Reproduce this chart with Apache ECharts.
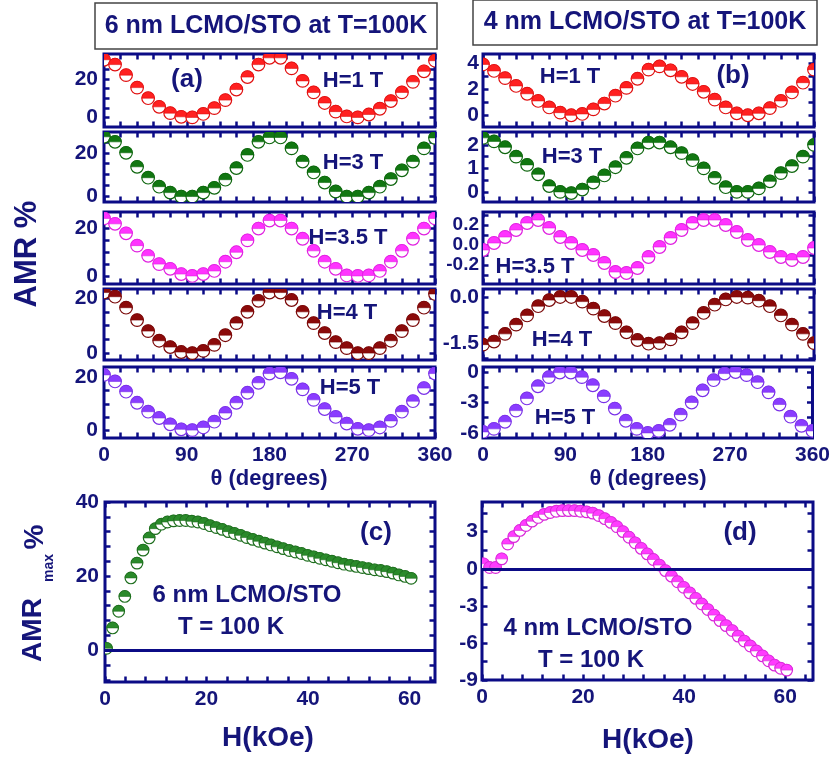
<!DOCTYPE html>
<html><head><meta charset="utf-8">
<script src="https://cdn.jsdelivr.net/npm/echarts@6/dist/echarts.min.js"></script>
<style>html,body{margin:0;padding:0;background:#fff}#c{width:833px;height:763px}</style>
</head><body><div id="c"></div><script>
// ---------- DATA ----------
const theta = [0,12,24,36,48,60,72,84,96,108,120,132,144,156,168,180,192,204,216,228,240,252,264,276,288,300,312,324,336,348,360];
const thetaTicks = [0,18,36,54,72,90,108,126,144,162,180,198,216,234,252,270,288,306,324,342,360];
const thetaLabels = [0,90,180,270,360];

// 6 nm film (left column), AMR %
const amr6_1T   = [30,27.5,22,15.5,10, 5.5,2.2,0.3,0,1.8, 4.8,9,14.5,21,27.5, 31,31,25.5,19,13, 7.5,3,0.5,0,1.5, 4.5,8.5,13,18.5,24, 29.5];
const amr6_3T   = [27.3,25,20,13.6,8.6, 4.5,1.8,0,0,1.8, 4,7.7,13,19,25, 27,27,22,16,11, 6.4,2.3,0,0,1.8, 4.5,8,12,16,22, 26.8];
const amr6_35T  = [24.3,22,18,12.8,8.5, 5,3,0.8,0,0.8, 2.1,6,10,15,20, 23.4,23.4,20,15.7,10.6, 6,3,0.2,0,0.2, 2.1,6,10.6,15.7,20, 24.3];
const amr6_4T   = [22,20.5,16.5,12,8, 4.5,2.2,0.4,0,0.8, 3,6.5,10.9,15,19, 22,22,19.3,15,10.9, 7.3,4,1.8,0,0, 1.8,4.5,8,12,16.5, 21.5];
const amr6_5T   = [21,18.5,14.6,10.4,7, 4.6,2.2,0.3,0,1, 3.2,6.5,10.4,14.2,18, 21.5,22,19.5,15.5,11.5, 8,5,2.5,0.5,0, 1,3.5,7,11,16, 21.5];
// 4 nm film (right column), AMR %
const amr4_1T   = [3.9,3.4,2.85,2.25,1.65, 1.1,0.6,0.2,0,0.1, 0.45,0.9,1.5,2.1,2.8, 3.5,3.75,3.45,2.95,2.4, 1.8,1.2,0.6,0.15,0, 0.15,0.55,1.1,1.75,2.5, 3.5];
const amr4_3T   = [2.3,2.15,1.9,1.5,1.15, 0.75,0.25,0,-0.05,0.1, 0.4,0.7,1.05,1.45,1.85, 2.1,2.1,1.9,1.65,1.35, 1.0,0.6,0.2,0,0, 0.15,0.45,0.8,1.1,1.5, 2.0];
const amr4_35T  = [-0.05,0.02,0.08,0.15,0.22, 0.25,0.17,0.08,0.02,-0.05, -0.1,-0.18,-0.27,-0.28,-0.23, -0.12,-0.02,0.07,0.15,0.22, 0.25,0.25,0.2,0.13,0.05, 0,-0.07,-0.12,-0.15,-0.12, -0.03];
const amr4_4T   = [-1.55,-1.45,-1.2,-0.9,-0.6, -0.3,-0.1,0,0,-0.15, -0.38,-0.62,-0.85,-1.15,-1.4, -1.52,-1.5,-1.38,-1.15,-0.85, -0.52,-0.25,-0.08,0,-0.02, -0.12,-0.3,-0.6,-0.9,-1.2, -1.5];
const amr4_5T   = [-5.9,-5.6,-4.9,-3.8,-2.6, -1.4,-0.5,-0.05,-0.05,-0.5, -1.3,-2.4,-3.6,-4.8,-5.6, -6.0,-5.8,-5.2,-4.2,-3.0, -1.8,-0.8,-0.15,0,-0.3, -1.0,-2.0,-3.2,-4.4,-5.3, -5.8];

// AMR_max vs field
const fieldH = [0.3,1.5,2.7,3.9,5.1,6.3,7.5,8.7,9.9,11.1,12.3,13.5,14.7,15.9,17.1,18.3,19.5,20.7,21.9,23.1,24.3,25.5,26.7,27.9,29.1,30.3,31.5,32.7,33.9,35.1,36.3,37.5,38.7,39.9,41.1,42.3,43.5,44.7,45.9,47.1,48.3,49.5,50.7,51.9,53.1,54.3,55.5,56.7,57.9,59.1,60.3];
const amrMax6 = [0.5,6,10.5,14.5,19.5,23.5,27,30.3,32.8,34,34.6,34.9,35,35,34.8,34.6,34.2,33.6,33.1,32.6,32,31.5,31,30.4,29.9,29.4,28.9,28.4,27.9,27.4,26.9,26.5,26.1,25.6,25.2,24.8,24.4,24,23.6,23.2,22.9,22.6,22.3,22,21.7,21.5,21.2,20.8,20.3,19.9,19.4];
const amrMax4 = [0.4,0.1,0.1,0.8,2.0,2.6,3.1,3.5,3.85,4.15,4.4,4.55,4.65,4.7,4.7,4.7,4.65,4.6,4.5,4.3,4.05,3.75,3.4,3.0,2.55,2.1,1.65,1.2,0.75,0.3,-0.15,-0.6,-1.05,-1.5,-1.95,-2.4,-2.85,-3.3,-3.75,-4.2,-4.6,-5.0,-5.45,-5.85,-6.25,-6.65,-7.05,-7.45,-7.8,-8.05,-8.2];
const fieldTicks = [0,4,8,12,16,20,24,28,32,36,40,44,48,52,56,60,64];
const fieldLabels = [0,20,40,60];

// tick labels per panel
const yLab6 = [0,20];
const yTick6 = [0,5,10,15,20,25,30];
const yLab4 = [[0,2,4],[0,1,2],[-0.2,0,0.2],[-1.5,0],[-6,-3,0]];
const yTick4 = [[0,1,2,3,4],[0,0.5,1,1.5,2],[-0.3,-0.2,-0.1,0,0.1,0.2,0.3],[-2,-1.5,-1,-0.5,0],[-6,-4.5,-3,-1.5,0]];
const yLabC = [0,20,40], yTickC = [-8,-4,0,4,8,12,16,20,24,28,32,36,40];
const yLabD = [-9,-6,-3,0,3], yTickD = [-9,-7.5,-6,-4.5,-3,-1.5,0,1.5,3,4.5];
const yRange6 = [[-5,33],[-2.5,29.5],[-3.4,27],[-2.5,23.3],[-3,24]];
const yRange4 = [[-0.9,4.7],[-0.43,2.55],[-0.39,0.33],[-2.05,0.26],[-6.5,0.5]];

// ---------- STYLE / LAYOUT ----------
const NAVY = '#0b0b86';
const TXT = '#15157a';
const FONT = '"Liberation Sans", Arial, sans-serif';
const colors = ['#ff2020','#117711','#ff33ff','#8b0a0a','#8a3cff'];
const rowTops = [54,132,212,289,367];
const rowH = [73,70,72,71,71];

const grids=[], xAxes=[], yAxes=[], series=[];
function tick(vals){return {show:true, inside:true, length:5.5, lineStyle:{color:NAVY, width:2.5}, customValues:vals};}
function lab(show, vals, fmt, margin, size){
  const o = {show:show, customValues:vals, color:TXT, fontSize:size||21, fontWeight:'bold', fontFamily:FONT, margin:margin, hideOverlap:false};
  if (fmt) o.formatter = fmt;
  return o;
}
function addPanel(p){
  const gi = grids.length;
  grids.push({left:p.left, top:p.top, width:p.width, height:p.height, show:true, borderColor:NAVY, borderWidth:3, backgroundColor:'rgba(0,0,0,0)'});
  const base = {type:'value', gridIndex:gi, axisLine:{show:false, onZero:false}, splitLine:{show:false}};
  xAxes.push(Object.assign({}, base, {position:'bottom', min:p.xMin, max:p.xMax, axisTick:tick(p.xTicks), axisLabel:lab(p.showX, p.xLabels, null, 7)}));
  xAxes.push(Object.assign({}, base, {position:'top', min:p.xMin, max:p.xMax, axisTick:tick(p.xTicks), axisLabel:{show:false}}));
  yAxes.push(Object.assign({}, base, {position:'left', min:p.yMin, max:p.yMax, axisTick:tick(p.yTicks), axisLabel:lab(true, p.yLabels, p.yFmt, p.yMargin, p.ySize)}));
  yAxes.push(Object.assign({}, base, {position:'right', min:p.yMin, max:p.yMax, axisTick:tick(p.yTicks), axisLabel:{show:false}}));
  const xi = xAxes.length-2, yi = yAxes.length-2;
  if (p.zero) {
    series.push({type:'line', xAxisIndex:xi, yAxisIndex:yi, data:[], z:1, silent:true,
      markLine:{silent:true, symbol:'none', label:{show:false}, lineStyle:{color:NAVY, width:3, type:'solid'}, data:[{yAxis:0}]}});
  }
  const color = p.color, edge = p.edge, R = p.r;
  series.push({type:'custom', xAxisIndex:xi, yAxisIndex:yi, clip:true, z:3,
    data: p.xs.map((x,i)=>[x, p.ys[i]]),
    renderItem: function(params, api){
      const c = api.coord([api.value(0), api.value(1)]);
      return {type:'group', children:[
        {type:'circle', shape:{cx:c[0], cy:c[1], r:R}, style:{fill:'#ffffff', stroke:edge, lineWidth:1.2}},
        {type:'sector', shape:{cx:c[0], cy:c[1], r0:0, r:R, startAngle:Math.PI, endAngle:2*Math.PI, clockwise:true}, style:{fill:color, stroke:edge, lineWidth:0.6}}
      ]};
    }});
}

const left6 = [amr6_1T, amr6_3T, amr6_35T, amr6_4T, amr6_5T];
const right4 = [amr4_1T, amr4_3T, amr4_35T, amr4_4T, amr4_5T];
const edges = ['#e01010','#0e660e','#e020e0','#7a0808','#7a30e8'];
const fmt1 = v => v.toFixed(1);
for (let i=0;i<5;i++){
  addPanel({left:104, top:rowTops[i], width:331, height:rowH[i], xMin:0, xMax:360, xTicks:thetaTicks, xLabels:thetaLabels, showX:i===4,
    yMin:yRange6[i][0], yMax:yRange6[i][1], yTicks:yTick6, yLabels:yLab6, yMargin:6, xs:theta, ys:left6[i], color:colors[i], edge:edges[i], r:6.3});
}
for (let i=0;i<5;i++){
  addPanel({left:483, top:rowTops[i], width:331, height:rowH[i], xMin:0, xMax:360, xTicks:thetaTicks, xLabels:thetaLabels, showX:i===4,
    yMin:yRange4[i][0], yMax:yRange4[i][1], yTicks:yTick4[i], yLabels:yLab4[i], yFmt:(i===2||i===3)?fmt1:null, yMargin:4, ySize:(i===2?19:21),
    xs:theta, ys:right4[i], color:colors[i], edge:edges[i], r:6.3});
}
addPanel({left:105, top:502, width:330, height:180, xMin:0, xMax:65, xTicks:fieldTicks, xLabels:fieldLabels, showX:true,
  yMin:-8.6, yMax:40, yTicks:yTickC, yLabels:yLabC, yMargin:6, xs:fieldH, ys:amrMax6, color:'#2a8a2a', edge:'#1e6e1e', r:5.8, zero:true});
addPanel({left:482, top:502, width:331, height:178, xMin:0, xMax:65.5, xTicks:fieldTicks, xLabels:fieldLabels, showX:true,
  yMin:-9, yMax:5.4, yTicks:yTickD, yLabels:yLabD, yMargin:4, xs:fieldH, ys:amrMax4, color:'#ff3cff', edge:'#d828d8', r:5.8, zero:true});

function T(text, x, y, size, extra){
  return Object.assign({type:'text', x:x, y:y, z:100, style:{text:text, fill:TXT, fontSize:size, fontWeight:'bold', fontFamily:FONT,
    align:'center', verticalAlign:'middle', textAlign:'center', textVerticalAlign:'middle'}}, extra||{});
}
const elements = [
  {type:'rect', z:90, shape:{x:95, y:3, width:342, height:46}, style:{fill:'#fff', stroke:'#444', lineWidth:1.5}},
  {type:'rect', z:90, shape:{x:473, y:0, width:344, height:45}, style:{fill:'#fff', stroke:'#444', lineWidth:1.5}},
  T('6 nm LCMO/STO at T=100K', 266, 26, 25),
  T('4 nm LCMO/STO at T=100K', 645, 22, 25),
  T('(a)', 187, 80, 26),
  T('H=1 T', 353, 81, 22),
  T('H=3 T', 353, 163, 22),
  T('H=3.5 T', 348, 238, 22),
  T('H=4 T', 347, 313, 22),
  T('H=5 T', 350, 388, 22),
  T('(b)', 733, 76, 26),
  T('H=1 T', 570, 77, 22),
  T('H=3 T', 572, 157, 22),
  T('H=3.5 T', 535, 267, 22),
  T('H=4 T', 562, 340, 22),
  T('H=5 T', 565, 418, 22),
  T('θ (degrees)', 269, 479, 22),
  T('θ (degrees)', 648, 479, 22),
  T('(c)', 376, 533, 26),
  T('6 nm LCMO/STO', 247, 595, 24),
  T('T = 100 K', 231, 627, 24),
  T('(d)', 740, 533, 26),
  T('4 nm LCMO/STO', 598, 628, 24),
  T('T = 100 K', 591, 660, 24),
  T('H(kOe)', 268, 738, 28),
  T('H(kOe)', 648, 740, 28),
  T('AMR %', 27, 254, 31, {rotation:Math.PI/2}),
  T('AMR', 33, 630, 28, {rotation:Math.PI/2}),
  T('max', 49, 568, 14, {rotation:Math.PI/2}),
  T('%', 35, 537, 28, {rotation:Math.PI/2})
];

const chart = echarts.init(document.getElementById('c'));
chart.setOption({
  animation:false,
  backgroundColor:'#ffffff',
  grid:grids, xAxis:xAxes, yAxis:yAxes, series:series,
  graphic:{elements:elements}
});
</script></body></html>
